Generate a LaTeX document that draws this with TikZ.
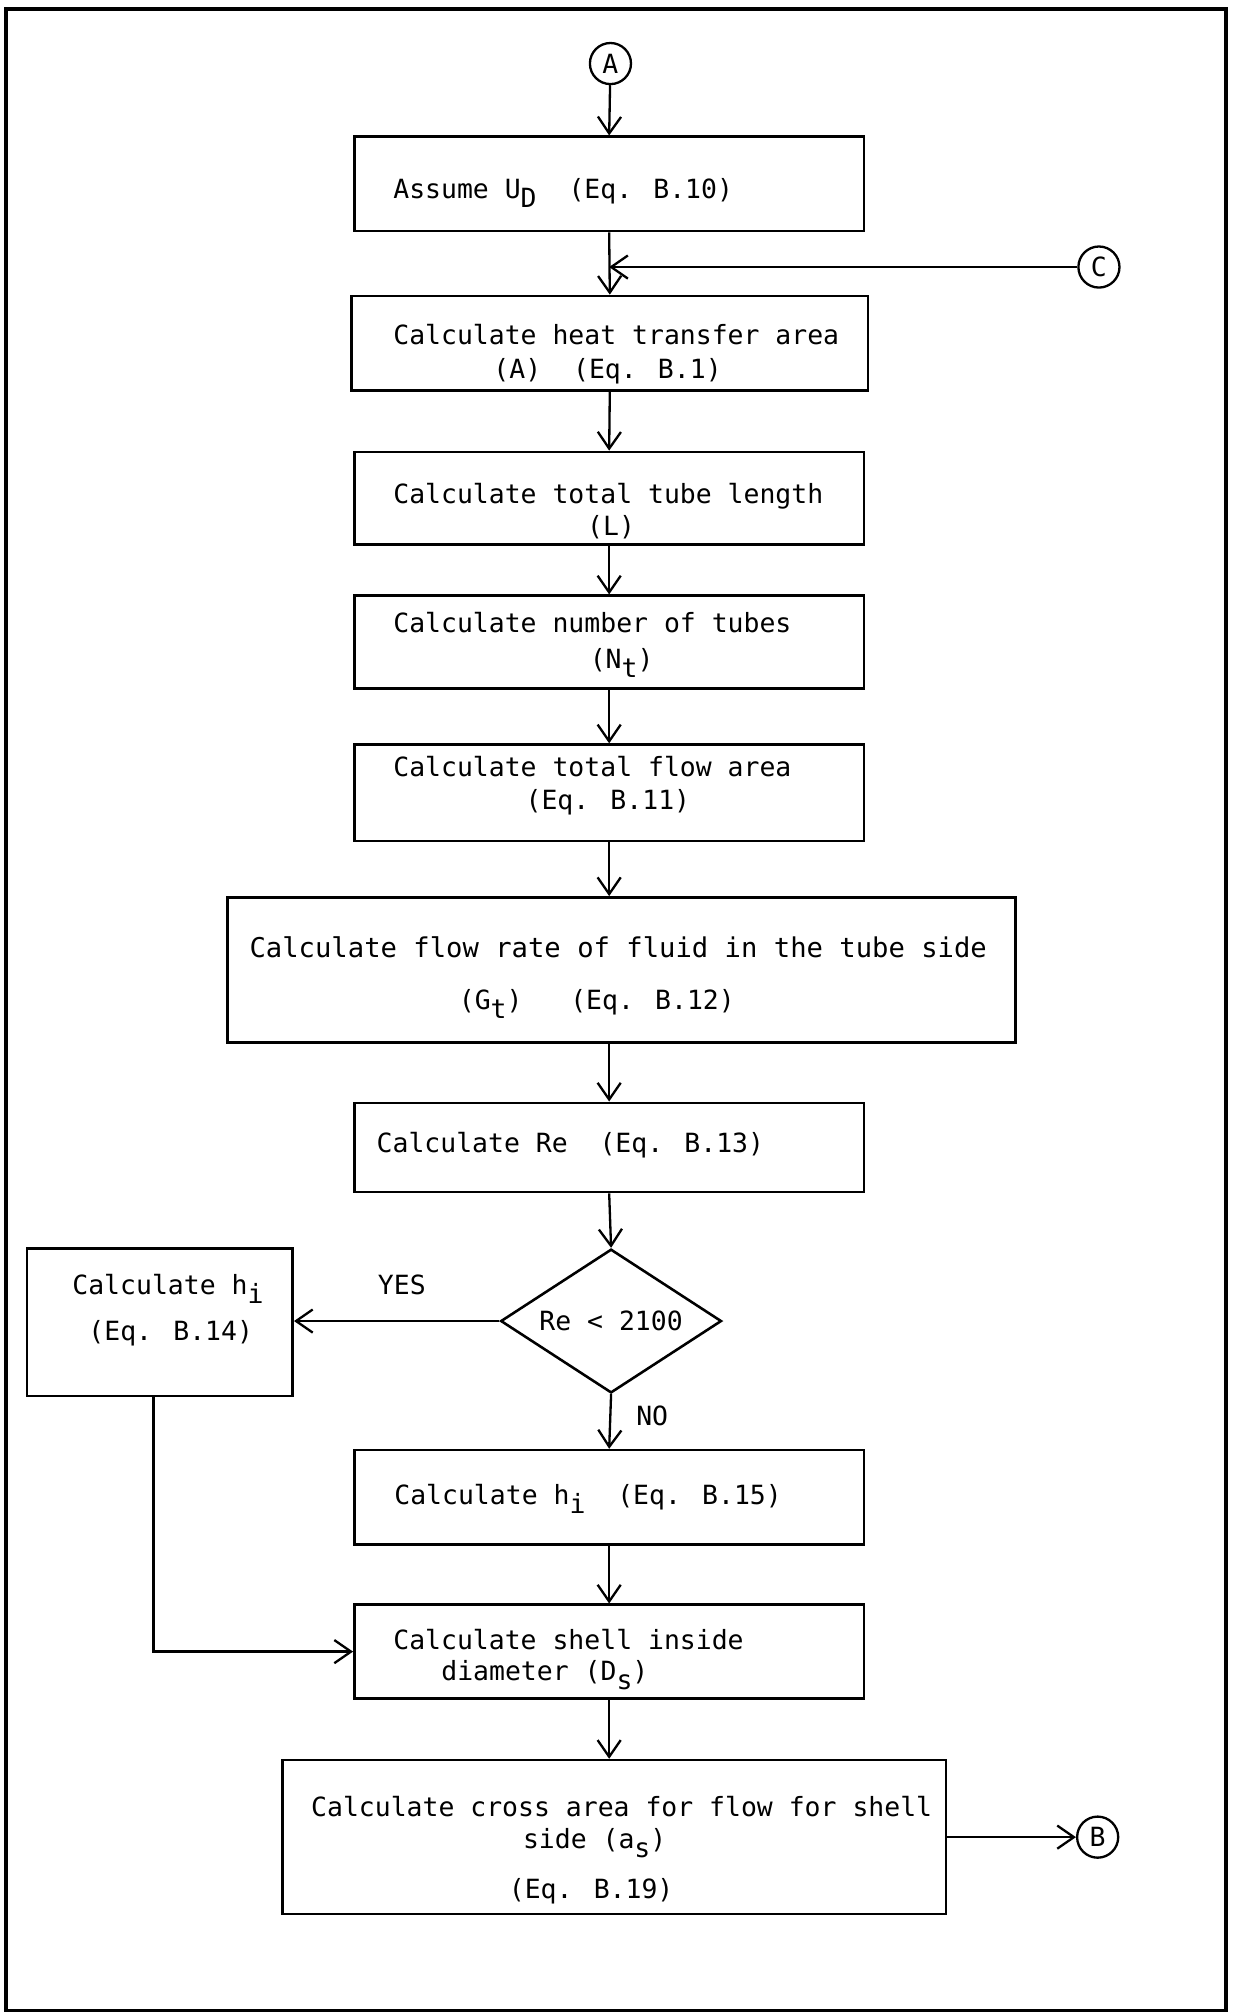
\documentclass[tikz,border=0pt]{standalone}
\usepackage{fontspec}
\setmainfont{DejaVu Sans Mono}
\usetikzlibrary{shapes.geometric,arrows.meta}
% lowered index letter, typewriter style
\newcommand\subdn[1]{\raisebox{-0.6ex}{#1}}
\begin{document}
\begin{tikzpicture}[x=0.5pt,y=-0.5pt,
  font=\fontsize{10.3}{13}\selectfont,
  box/.style={draw,rectangle,line width=1pt,inner sep=0pt},
  conn/.style={draw,circle,line width=0.9pt,minimum size=16pt,inner sep=0pt},
  txt/.style={anchor=base west,inner sep=0pt},
  ctxt/.style={anchor=base,inner sep=0pt},
  flow/.style={line width=0.9pt,-{Straight Barb[length=6.5pt,width=9pt]}}]

\useasboundingbox (0,0) rectangle (960,1568);
\draw[line width=1.5pt] (5,7) rectangle (955,1566);

% connectors
\node[conn] (A) at (475.5,49.5) {A};
\node[conn] (C) at (856,208) {C};
\node[conn] (B) at (855,1431) {B};

% process boxes
\node[box,minimum width=198.5pt,minimum height=36.75pt] (b1) at (474.5,143.25) {};
\node[box,minimum width=201pt,minimum height=36.75pt] (b2) at (475,267.25) {};
\node[box,minimum width=198.5pt,minimum height=36pt] (b3) at (474.5,388) {};
\node[box,minimum width=198.5pt,minimum height=36.25pt] (b4) at (474.5,500.25) {};
\node[box,minimum width=198.5pt,minimum height=37.5pt] (b5) at (474.5,617.5) {};
\node[box,minimum width=307pt,minimum height=56.5pt] (b6) at (484,755.5) {};
\node[box,minimum width=198.5pt,minimum height=34.75pt] (b7) at (474.5,893.75) {};
\node[draw,diamond,aspect=1.536,line width=1pt,inner sep=0pt,minimum width=86pt,minimum height=56pt] (dia) at (476,1029) {Re < 2100};
\node[box,minimum width=103.5pt,minimum height=57.5pt] (bL) at (124.5,1030) {};
\node[box,minimum width=198.5pt,minimum height=36.75pt] (b15) at (474.5,1166.25) {};
\node[box,minimum width=198.5pt,minimum height=36.5pt] (bS) at (474.5,1286.5) {};
\node[box,minimum width=258.5pt,minimum height=60pt] (bC) at (478.5,1431) {};

% box texts
\node[txt] (t1) at (306,154.5) {Assume U\subdn{D}~~(Eq. B.10)};
\node[txt] (t2a) at (306,268.5) {Calculate heat transfer area};
\node[txt] (t2b) at (384,294.5) {(A)~~(Eq. B.1)};
\node[txt] (t3a) at (306,392) {Calculate total tube length};
\node[ctxt] (t3b) at (476,417.5) {(L)};
\node[txt] (t4a) at (306,492.5) {Calculate number of tubes};
\node[txt] (t4b) at (459,521) {(N\subdn{t})};
\node[txt] (t5a) at (306,604.5) {Calculate total flow area};
\node[txt] (t5b) at (409,630.5) {(Eq. B.11)};
\node[txt,font=\fontsize{10.6}{13}\selectfont] (t6a) at (194,745.5) {Calculate flow rate of fluid in the tube side};
\node[txt] (t6b) at (357,786.5) {(G\subdn{t})~~~(Eq. B.12)};
\node[txt] (t7) at (293,897.5) {Calculate Re~~(Eq. B.13)};
\node[txt] (tL1) at (56,1008.5) {Calculate h\subdn{i}};
\node[txt] (tL2) at (68.5,1044.5) {(Eq. B.14)};
\node[txt] (t15) at (306.8,1172) {Calculate h\subdn{i}~~(Eq. B.15)};
\node[txt] (tS1) at (306,1284.5) {Calculate shell inside};
\node[txt] (tS2) at (343.4,1309) {diameter (D\subdn{s})};
\node[txt] (tC1) at (242,1415) {Calculate cross area for flow for shell};
\node[txt] (tC2) at (407,1440) {side (a\subdn{s})};
\node[txt] (tC3) at (396,1479) {(Eq. B.19)};

% branch labels
\node[ctxt] (yes) at (313,1008.5) {YES};
\node[ctxt] (no) at (508,1110) {NO};

% flow lines
\draw[flow] (A) -- (b1.north);
\draw[flow] (b1.south) -- (b2.north);
\draw[flow] (C.west) -- (C.west -| b1.south);
\draw[flow] (b2.south) -- (b3.north);
\draw[flow] (b3.south) -- (b4.north);
\draw[flow] (b4.south) -- (b5.north);
\draw[flow] (b5.south) -- (b6.north -| b5.south);
\draw[flow] (b6.south -| b7.north) -- (b7.north);
\draw[flow] (b7.south) -- (dia.north);
\draw[flow] (dia.west) -- (dia.west -| bL.east);
\draw[flow] (dia.south) -- (b15.north);
\draw[flow] (b15.south) -- (bS.north);
\draw[flow] ([xshift=-2.5pt]bL.south) |- (bS.west);
\draw[flow] (bS.south) -- (bC.north -| bS.south);
\draw[flow] (bC.east) -- (B.west);
\end{tikzpicture}
\end{document}
